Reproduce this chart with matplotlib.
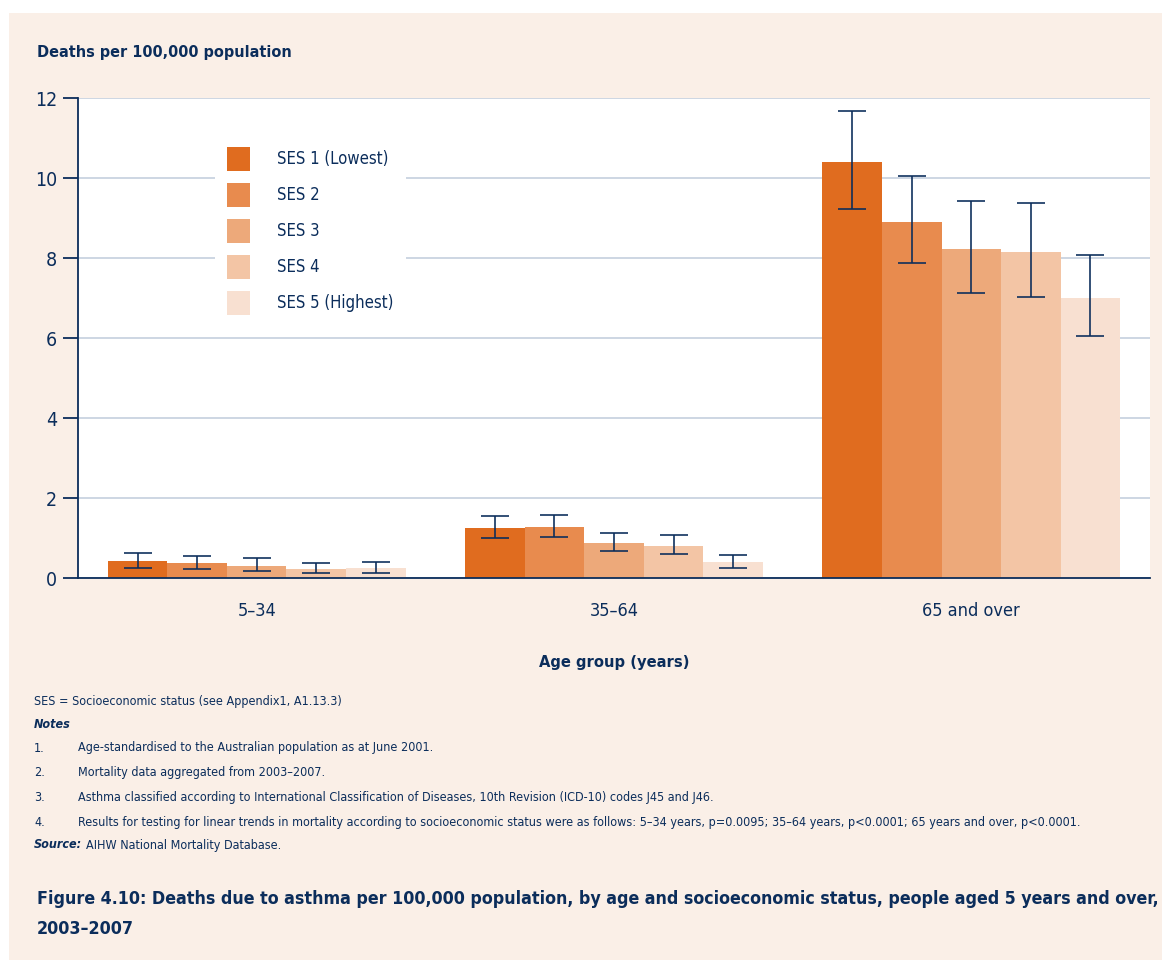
import numpy as np
import matplotlib.pyplot as plt
from matplotlib.patches import Rectangle

plt.rcParams['font.family'] = ['Noto Sans ExtraCondensed', 'Noto Sans Condensed',
                               'DejaVu Sans']
plt.rcParams['font.stretch'] = 'condensed'

age_groups = ['5–34', '35–64', '65 and over']
ses_labels = ['SES 1 (Lowest)', 'SES 2', 'SES 3', 'SES 4', 'SES 5 (Highest)']

rates = [
    [0.43, 1.25, 10.41],
    [0.38, 1.28, 8.91],
    [0.30, 0.88, 8.23],
    [0.23, 0.80, 8.16],
    [0.25, 0.40, 7.01],
]
ci_low = [
    [0.25, 1.00, 9.23],
    [0.22, 1.02, 7.87],
    [0.18, 0.67, 7.13],
    [0.12, 0.60, 7.02],
    [0.12, 0.26, 6.04],
]
ci_high = [
    [0.63, 1.56, 11.67],
    [0.56, 1.57, 10.04],
    [0.50, 1.13, 9.43],
    [0.38, 1.07, 9.37],
    [0.41, 0.58, 8.08],
]

colores = ['#E06C1F', '#E88B4E', '#EDA97A', '#F3C5A5', '#F8E0D1']
navy = '#0B2D5B'
beige = '#FAEFE7'

W, H = 1162, 960
fig = plt.figure(figsize=(W / 100, H / 100), dpi=100, facecolor='white')
# fondo beige del recuadro
fig.patches.append(Rectangle((9 / W, 0), 1 - 9 / W, 1 - 13 / H,
                             transform=fig.transFigure, facecolor=beige,
                             edgecolor='none', zorder=-10))

ax = fig.add_axes([78 / W, 1 - 578 / H, (1150 - 78) / W, 480 / H])
ax.set_facecolor('white')

x = np.arange(len(age_groups))
ancho = 1 / 6
for i in range(len(ses_labels)):
    pos = x + (i - 2) * ancho
    vals = np.array(rates[i])
    err = [vals - np.array(ci_low[i]), np.array(ci_high[i]) - vals]
    ax.bar(pos, vals, width=ancho, color=colores[i], label=ses_labels[i], zorder=2)
    ax.errorbar(pos, vals, yerr=err, fmt='none', ecolor=navy, elinewidth=1.3,
                capsize=10, capthick=1.3, alpha=0.9, zorder=3)

ax.set_xlim(-0.5, 2.5)
ax.set_ylim(0, 12)
ax.set_yticks(range(0, 13, 2))
ax.set_xticks(x)
ax.set_xticklabels(age_groups)
ax.grid(axis='y', color='#C9D3E0', linewidth=1.3, zorder=0)
ax.set_axisbelow(True)
for s in ['top', 'right']:
    ax.spines[s].set_visible(False)
for s in ['left', 'bottom']:
    ax.spines[s].set_color(navy)
    ax.spines[s].set_linewidth(1.3)
ax.tick_params(axis='y', colors=navy, labelsize=14, length=11, width=1.3, pad=4)
ax.tick_params(axis='x', colors=navy, labelsize=13, length=0, pad=17)

fl = 12
leg = ax.legend(loc='upper left', bbox_to_anchor=((215 - 78) / 1072, (578 - 135) / 480),
                frameon=True, fontsize=fl, handlelength=1.38, handleheight=1.84,
                labelspacing=0.72, handletextpad=1.62, borderpad=0.72, borderaxespad=0)
leg.get_frame().set_facecolor('white')
leg.get_frame().set_edgecolor('none')
leg.get_frame().set_alpha(1)
for t in leg.get_texts():
    t.set_color(navy)

fig.text(37 / W, 1 - 52 / H, 'Deaths per 100,000 population', fontsize=11.6,
         fontweight='bold', color=navy, va='center')
fig.text(614 / W, 1 - 662 / H, 'Age group (years)', fontsize=11.8,
         fontweight='bold', color=navy, va='center', ha='center')

fs = 9.0
fig.text(34 / W, 1 - 702 / H, 'SES = Socioeconomic status (see Appendix1, A1.13.3)',
         fontsize=fs, color=navy, va='center')
fig.text(34 / W, 1 - 724 / H, 'Notes', fontsize=fs, color=navy, va='center',
         fontweight='bold', style='italic')
notas = [
    'Age-standardised to the Australian population as at June 2001.',
    'Mortality data aggregated from 2003–2007.',
    'Asthma classified according to International Classification of Diseases, 10th Revision (ICD-10) codes J45 and J46.',
    'Results for testing for linear trends in mortality according to socioeconomic status were as follows: '
    '5–34 years, p=0.0095; 35–64 years, p<0.0001; 65 years and over, p<0.0001.',
]
for k, nota in enumerate(notas):
    yy = 1 - (748 + k * 24.7) / H
    fig.text(34 / W, yy, f'{k + 1}.', fontsize=fs, color=navy, va='center')
    fig.text(78 / W, yy, nota, fontsize=fs, color=navy, va='center')
fig.text(34 / W, 1 - 845 / H, 'Source:', fontsize=fs, color=navy, va='center',
         fontweight='bold', style='italic')
fig.text(86 / W, 1 - 845 / H, 'AIHW National Mortality Database.', fontsize=fs,
         color=navy, va='center')

ft = 12.8
fig.text(37 / W, 1 - 899 / H,
         'Figure 4.10: Deaths due to asthma per 100,000 population, by age and socioeconomic status, '
         'people aged 5 years and over,',
         fontsize=ft, fontweight='bold', color=navy, va='center')
fig.text(37 / W, 1 - 929 / H, '2003–2007', fontsize=ft, fontweight='bold',
         color=navy, va='center')

fig.savefig('out.png', dpi=100, facecolor=fig.get_facecolor())
